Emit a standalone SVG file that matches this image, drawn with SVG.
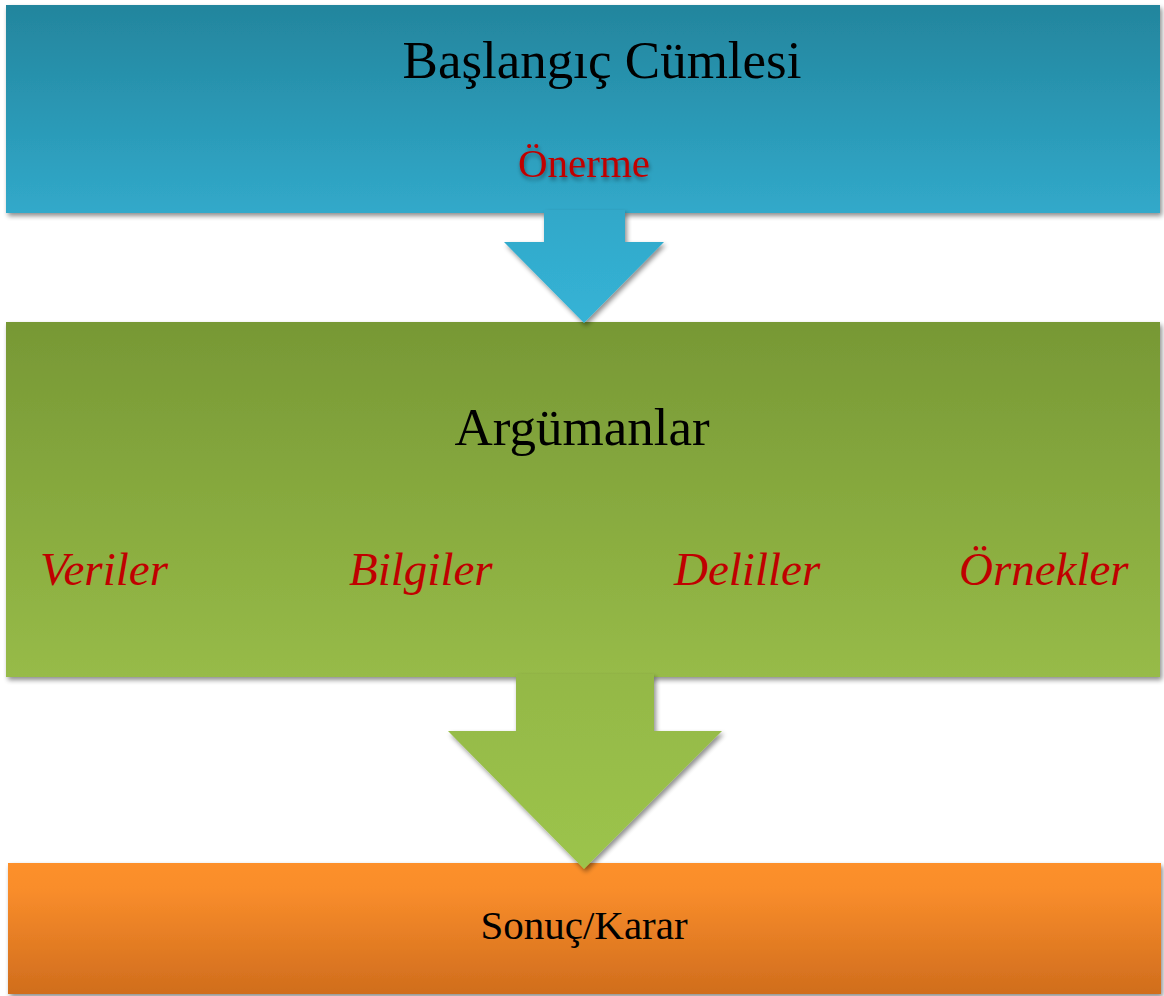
<svg xmlns="http://www.w3.org/2000/svg" width="1164" height="996" viewBox="0 0 1164 996">
<defs>
<linearGradient id="gBlue" x1="0" y1="0" x2="0" y2="1"><stop offset="0" stop-color="#23859D"/><stop offset="1" stop-color="#31A9CA"/></linearGradient>
<linearGradient id="gBlueArrow" x1="0" y1="0" x2="0" y2="1"><stop offset="0" stop-color="#31A8C9"/><stop offset="1" stop-color="#35B3D6"/></linearGradient>
<linearGradient id="gGreen" x1="0" y1="0" x2="0" y2="1"><stop offset="0" stop-color="#779835"/><stop offset="1" stop-color="#97BB48"/></linearGradient>
<linearGradient id="gGreenArrow" x1="0" y1="0" x2="0" y2="1"><stop offset="0" stop-color="#94B846"/><stop offset="1" stop-color="#9CC44C"/></linearGradient>
<linearGradient id="gOrange" x1="0" y1="0" x2="0" y2="1"><stop offset="0" stop-color="#FD902C"/><stop offset="0.2" stop-color="#F98D2B"/><stop offset="1" stop-color="#D06D1D"/></linearGradient>
<filter id="shadow" x="-5%" y="-10%" width="110%" height="125%"><feGaussianBlur in="SourceAlpha" stdDeviation="2.5"/><feOffset dx="2" dy="3" result="b"/><feComponentTransfer><feFuncA type="linear" slope="0.45"/></feComponentTransfer><feMerge><feMergeNode/><feMergeNode in="SourceGraphic"/></feMerge></filter>
<filter id="tshadow" x="-10%" y="-20%" width="120%" height="150%"><feGaussianBlur in="SourceAlpha" stdDeviation="2"/><feOffset dx="1" dy="3" result="b"/><feComponentTransfer><feFuncA type="linear" slope="0.4"/></feComponentTransfer><feMerge><feMergeNode/><feMergeNode in="SourceGraphic"/></feMerge></filter>
</defs>
<style>
.t{font-family:"Liberation Serif","Times New Roman",serif;fill:#000}
.red{fill:#C00000}
.it{font-style:italic;font-size:47px;fill:#C00000}
</style>
<g id="node-baslangic">
<rect x="6" y="5" width="1154" height="208" fill="url(#gBlue)" filter="url(#shadow)"/>
<text class="t" x="602" y="78" text-anchor="middle" font-size="53">Başlangıç Cümlesi</text>
<text class="t red" x="584" y="177" text-anchor="middle" font-size="41" filter="url(#tshadow)">Önerme</text>
</g>
<g id="node-argumanlar">
<rect x="6" y="322" width="1154" height="355" fill="url(#gGreen)" filter="url(#shadow)"/>
<text class="t" x="582" y="445" text-anchor="middle" font-size="53">Argümanlar</text>
<text class="t it" x="40" y="585">Veriler</text>
<text class="t it" x="349" y="585">Bilgiler</text>
<text class="t it" x="674" y="585">Deliller</text>
<text class="t it" x="959" y="585">Örnekler</text>
</g>
<g id="node-sonuc">
<rect x="8" y="863" width="1153" height="131" fill="url(#gOrange)" filter="url(#shadow)"/>
<text class="t" x="584" y="939" text-anchor="middle" font-size="41">Sonuç/Karar</text>
</g>
<g id="connectors">
<path id="arrow1" d="M544,210 L625,210 L625,242 L664,242 L584,323 L504,242 L544,242 Z" fill="url(#gBlueArrow)" filter="url(#shadow)"/>
<path id="arrow2" d="M516,674 L654,674 L654,731 L722,731 L584,869 L448,731 L516,731 Z" fill="url(#gGreenArrow)" filter="url(#shadow)"/>
</g>
</svg>
